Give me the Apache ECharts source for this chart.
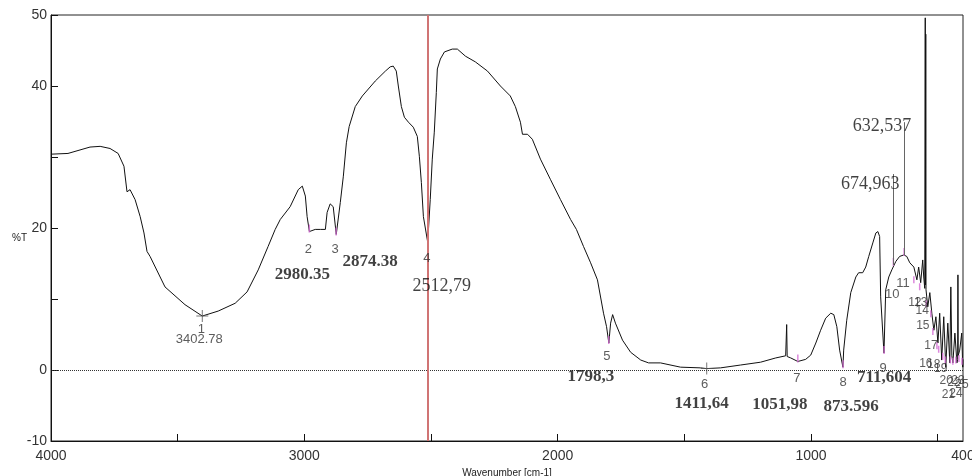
<!DOCTYPE html>
<html>
<head>
<meta charset="utf-8">
<title>IR spectrum</title>
<script src="https://cdn.jsdelivr.net/npm/echarts@6/dist/echarts.min.js"></script>
<style>
  html, body { margin: 0; padding: 0; background: #fff; }
  #chart { width: 972px; height: 476px; }
</style>
</head>
<body>
<div id="chart"></div>
<script>
// spectrum: wavenumber (cm-1) -> %T
const wavenumber = [
  4000, 3933, 3846, 3806, 3767, 3735, 3712, 3700, 3688, 3668,
  3648, 3633, 3621, 3609, 3550, 3471, 3403, 3340, 3273, 3226,
  3182, 3143, 3115, 3095, 3056, 3024, 3008, 2996, 2989, 2980,
  2957, 2937, 2917, 2910, 2898, 2886, 2874, 2858, 2846, 2834,
  2823, 2799, 2771, 2720, 2680, 2661, 2649, 2637, 2629, 2617,
  2605, 2589, 2570, 2554, 2546, 2538, 2530, 2513, 2503, 2495,
  2487, 2479, 2475, 2463, 2447, 2416, 2396, 2364, 2325, 2277,
  2226, 2187, 2167, 2147, 2139, 2119, 2100, 2068, 2028, 1989,
  1949, 1926, 1898, 1870, 1843, 1819, 1807, 1798, 1791, 1783,
  1772, 1744, 1712, 1672, 1641, 1594, 1515, 1436, 1412, 1357,
  1278, 1199, 1139, 1100, 1097, 1096, 1094, 1080, 1052, 1021,
  1001, 981, 962, 942, 922, 910, 898, 887, 874, 871,
  859, 843, 823, 812, 796, 784, 772, 756, 744, 736,
  729, 725, 712, 705, 693, 681, 665, 650, 634, 622,
  610, 594, 582, 575, 567, 559, 555, 551, 549, 548,
  547, 546, 539, 531, 523, 515, 507, 499, 492, 484,
  476, 468, 460, 452, 448, 444, 440, 432, 424, 421,
  420, 419, 413, 405, 401, 400
];
const transmittance = [
  30.4, 30.5, 31.4, 31.5, 31.2, 30.5, 28.7, 25.1, 25.4, 24.0,
  21.6, 19.3, 16.7, 16.0, 11.7, 9.2, 7.6, 8.3, 9.4, 11.0,
  14.1, 17.4, 19.8, 21.2, 23.0, 25.4, 25.9, 24.5, 21.6, 19.5,
  19.8, 19.8, 19.8, 22.2, 23.4, 23.0, 19.1, 23.6, 27.3, 32.0,
  34.3, 37.1, 38.6, 40.7, 42.1, 42.7, 42.8, 42.1, 40.0, 37.1,
  35.6, 34.9, 34.2, 32.9, 30.1, 26.4, 21.6, 18.0, 24.0, 29.7,
  33.5, 39.1, 42.4, 43.8, 44.8, 45.2, 45.2, 44.2, 43.4, 42.1,
  40.0, 38.6, 37.1, 34.9, 33.2, 33.2, 32.5, 29.7, 26.8, 24.0,
  21.2, 19.8, 17.4, 15.1, 12.7, 8.0, 6.1, 3.8, 6.6, 7.8,
  6.6, 4.2, 2.5, 1.4, 1.0, 1.0, 0.4, 0.3, 0.2, 0.3,
  0.7, 1.1, 1.7, 2.0, 2.0, 6.4, 1.9, 1.7, 1.2, 1.5,
  2.1, 3.8, 5.6, 7.3, 8.0, 7.8, 6.1, 2.8, 0.4, 2.8,
  7.0, 10.9, 13.1, 13.7, 13.7, 14.5, 16.0, 17.9, 19.3, 19.5,
  18.8, 10.3, 2.4, 11.3, 13.1, 14.1, 15.3, 16.0, 16.2, 16.0,
  15.1, 14.5, 12.7, 14.5, 12.3, 15.5, 13.1, 11.5, 49.6, 12.0,
  47.3, 11.3, 8.9, 10.9, 8.0, 5.6, 7.5, 3.8, 8.0, 1.4,
  7.5, 0.4, 6.6, 1.0, 11.7, 2.0, 1.0, 5.2, 1.0, 1.5,
  13.4, 2.0, 2.8, 5.2, 0.4, 1.5
];

const xTicks = [3500, 3000, 2500, 2000, 1500, 1000, 500];
const xLabels = [4000, 3000, 2000, 1000, 400];
const yTicks = [-10, 0, 10, 20, 30, 40, 50];
const yLabels = [-10, 0, 20, 40, 50];

// picked peaks
const peakNum = ['1', '2', '3', '4', '5', '6', '7', '8', '9', '10', '11'];
const peakWn = [3402.78, 2980.35, 2874.38, 2512.79, 1798.3, 1411.64, 1051.98, 873.596, 711.604, 674.963, 632.537];
const peakT = [7.6, 19.5, 19.1, 18.0, 3.8, 0.2, 1.2, 0.4, 2.4, 14.8, 16.2];
const peakText = ['3402.78', '2980.35', '2874.38', '2512,79', '1798,3', '1411,64', '1051,98', '873.596', '711,604', '674,963', '632,537'];
const leaderTop = [null, null, null, null, null, null, null, null, null, 27.6, 34.9];

// crowded peaks at the low end (numbers only)
const minorNum = ['12', '13', '14', '15', '16', '17', '18', '19', '20', '21', '22', '23', '24', '25'];
const minorWn = [594, 571, 545, 527, 519, 503, 496, 480, 470, 450, 440, 428, 416, 404];
const minorT = [12.3, 11.3, 8.9, 7.5, 5.0, 3.0, 2.5, 1.5, 1.0, 1.0, 0.8, 1.0, 1.2, 0.8];

const cursorWn = 2512.79;

const fontSans = '"Liberation Sans", Arial, sans-serif';
const fontSerif = '"Liberation Serif", "Times New Roman", serif';

const textStyles = {
  num: { fontFamily: fontSans, fontSize: 13, color: '#333' },
  sans: { fontFamily: fontSans, fontSize: 13, color: '#333' },
  bold: { fontFamily: fontSerif, fontSize: 17, fontWeight: 'bold', color: '#111' },
  plain: { fontFamily: fontSerif, fontSize: 18, color: '#111' }
};
const valueKind = ['sans', 'bold', 'bold', 'plain', 'bold', 'bold', 'bold', 'bold', 'bold', 'plain', 'plain'];

// label offsets in px from the peak point
const numOffset = [[-1, 13], [-1, 18], [-1, 15], [-1, 16], [-2, 13], [-2, 16], [-1, 17], [0, 15], [-1, 15], [-1, 30], [-1, 28]];
const valOffset = [[-3, 23], [-7, 43], [34, 27], [14, 44], [-18, 34], [-5, 35], [-18, 43], [8, 39], [0, 25], [-23, -81], [-22, -129]];
const minorOffset = [[1, 20], [1, 13], [-4, 4], [-8, 9], [-7, 29], [-6, -3], [-5, 12], [-2, 9], [1, 18], [-2, 32], [1, 18], [2, 18], [-3, 32], [0, 20]];

const spectrum = wavenumber.map((w, i) => [w, transmittance[i]]);

const crossPath = 'path://M5.5,0h1v12h-1zM0,5.5h12v1h-12z';

const markerData = peakWn.map((w, i) => {
  const cross = i === 0 || i === 5;
  return {
    value: [w, peakT[i]],
    symbol: cross ? crossPath : 'rect',
    symbolSize: cross ? 12 : [1.5, 8],
    symbolOffset: cross ? [0, 0] : [0, -3],
    itemStyle: { color: cross ? '#555' : (i === 3 ? '#3a3aa0' : '#d36ad3') }
  };
}).concat(minorWn.map((w, i) => ({
  value: [w, minorT[i]],
  symbol: 'rect',
  symbolSize: [1.5, 7],
  symbolOffset: [0, -3],
  itemStyle: { color: '#d36ad3' }
})));

const numberData = peakWn.map((w, i) => ({
  value: [w, peakT[i]],
  name: peakNum[i],
  label: Object.assign({ offset: numOffset[i] }, textStyles.num)
})).concat(minorWn.map((w, i) => ({
  value: [w, minorT[i]],
  name: minorNum[i],
  label: Object.assign({ offset: minorOffset[i] }, textStyles.num, { fontSize: 12 })
})));

const valueData = peakWn.map((w, i) => ({
  value: [w, peakT[i]],
  name: peakText[i],
  label: Object.assign({ offset: valOffset[i] }, textStyles[valueKind[i]])
}));

const leaderLines = [];
peakWn.forEach((w, i) => {
  if (leaderTop[i] != null) {
    leaderLines.push([
      { coord: [w, leaderTop[i]], lineStyle: { color: '#666', width: 1, type: 'solid' } },
      { coord: [w, peakT[i]] }
    ]);
  }
});

const chart = echarts.init(document.getElementById('chart'), null, { renderer: 'canvas' });

const option = {
  animation: false,
  backgroundColor: '#fff',
  title: {
    text: '%T',
    left: 7,
    top: 228,
    textStyle: { fontFamily: fontSans, fontSize: 10, fontWeight: 'normal', color: '#222' }
  },
  grid: {
    left: 51,
    right: 9,
    top: 15,
    bottom: 35,
    show: true,
    borderColor: '#222',
    borderWidth: 1,
    outerBoundsMode: 'none'
  },
  xAxis: {
    type: 'value',
    inverse: true,
    min: 400,
    max: 4000,
    name: 'Wavenumber [cm-1]',
    nameLocation: 'middle',
    nameGap: 25,
    nameTextStyle: { fontFamily: fontSans, fontSize: 10, color: '#222' },
    axisLine: { onZero: false, lineStyle: { color: '#111' } },
    axisTick: { inside: true, length: 7, customValues: xTicks, lineStyle: { color: '#111' } },
    axisLabel: {
      customValues: xLabels,
      showMinLabel: true,
      showMaxLabel: true,
      formatter: (v) => String(v),
      margin: 8,
      fontFamily: fontSans,
      fontSize: 14,
      color: '#333'
    },
    splitLine: { show: false }
  },
  yAxis: {
    type: 'value',
    min: -10,
    max: 50,
    interval: 10,
    axisLine: { show: true, lineStyle: { color: '#111' } },
    axisTick: { show: true, inside: true, length: 7, customValues: yTicks, lineStyle: { color: '#111' } },
    axisLabel: {
      customValues: yLabels,
      showMinLabel: true,
      showMaxLabel: true,
      formatter: (v) => String(v),
      margin: 4,
      fontFamily: fontSans,
      fontSize: 14,
      color: '#333'
    },
    splitLine: { show: false }
  },
  series: [
    {
      name: 'spectrum',
      type: 'line',
      data: spectrum,
      showSymbol: false,
      symbol: 'none',
      sampling: 'none',
      lineStyle: { color: '#111', width: 1 },
      z: 3,
      markLine: {
        silent: true,
        symbol: ['none', 'none'],
        label: { show: false },
        animation: false,
        data: [
          { yAxis: 0, lineStyle: { color: '#333', width: 1, type: 'dotted' } },
          { xAxis: cursorWn, lineStyle: { color: '#d07474', width: 2, type: 'solid' } }
        ].concat(leaderLines)
      }
    },
    {
      name: 'markers',
      type: 'scatter',
      data: markerData,
      silent: true,
      z: 4
    },
    {
      name: 'numbers',
      type: 'scatter',
      data: numberData,
      symbolSize: 1,
      itemStyle: { color: 'rgba(0,0,0,0)' },
      silent: true,
      label: { show: true, position: 'inside', formatter: '{b}' },
      z: 5
    },
    {
      name: 'values',
      type: 'scatter',
      data: valueData,
      symbolSize: 1,
      itemStyle: { color: 'rgba(0,0,0,0)' },
      silent: true,
      label: { show: true, position: 'inside', formatter: '{b}' },
      z: 5
    }
  ]
};

chart.setOption(option);
</script>
</body>
</html>
